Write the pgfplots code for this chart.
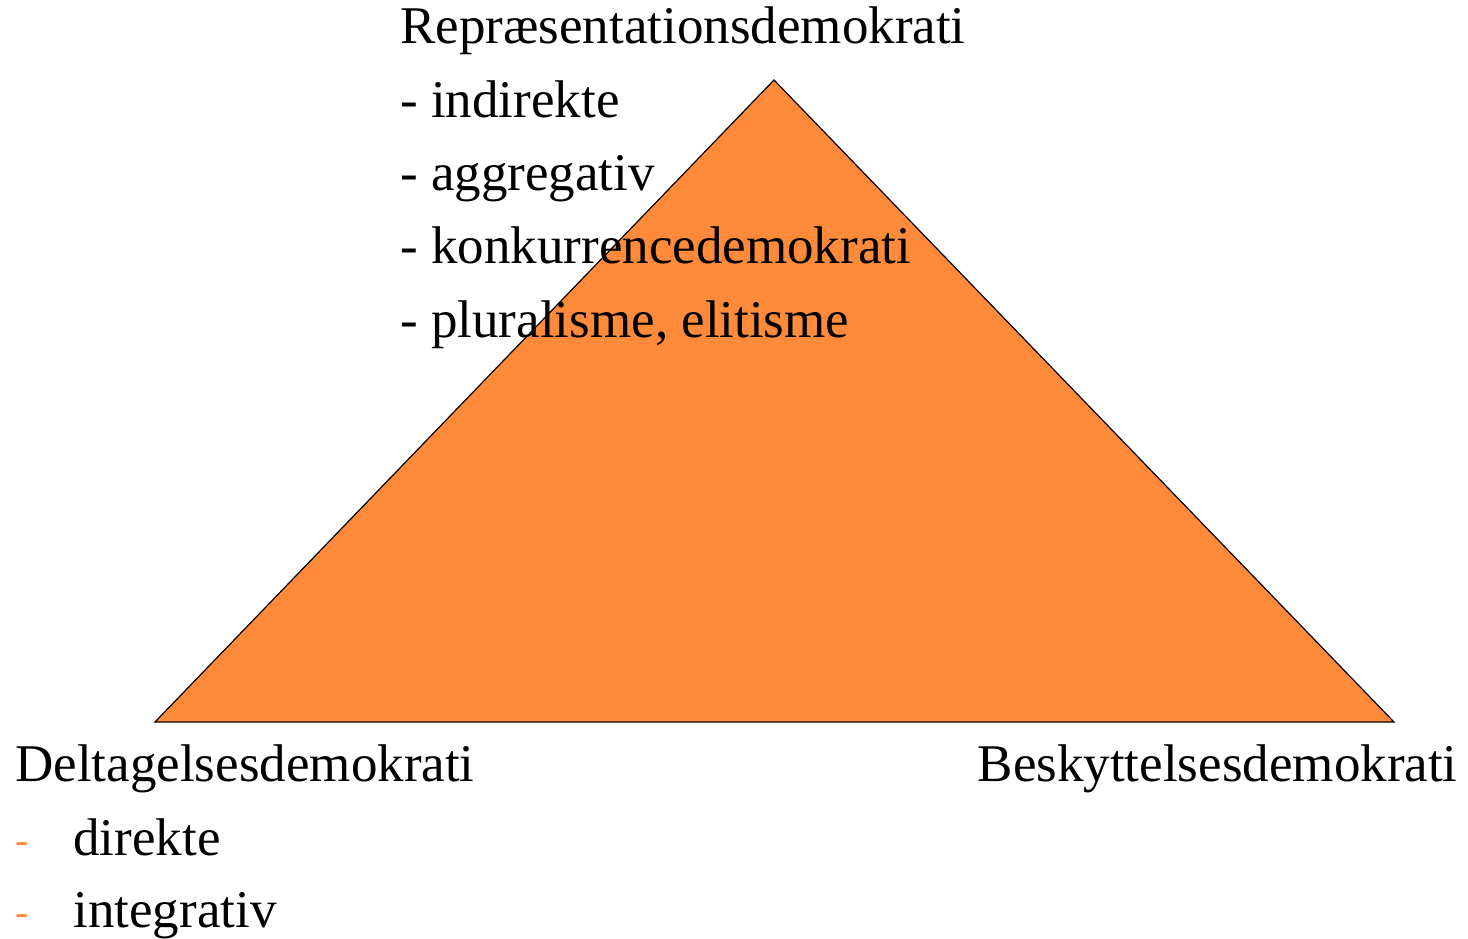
\documentclass[border=0pt]{standalone}
\usepackage{pgfplots}
\pgfplotsset{compat=1.18}
\usepackage{fontspec}
\setmainfont{Liberation Serif}
\definecolor{triorange}{RGB}{255,138,58}
\begin{document}
\begin{tikzpicture}
\begin{axis}[
    width=734bp, height=468bp,
    scale only axis,
    xmin=0, xmax=1468,
    ymin=0, ymax=936,
    y dir=reverse,
    hide axis,
    clip=false,
]
% triangle (pixel coordinates of the reference)
\addplot[draw=black, line width=0.6pt, fill=triorange] coordinates {
    (155,722) (774,80) (1394,722)
} -- cycle;

\begin{scope}[every node/.style={anchor=base west, inner sep=0pt, font=\fontsize{26.6}{27}\selectfont}]
\node at (axis cs:400,44)  {Repræsentationsdemokrati};
\node at (axis cs:400,117) {- indirekte};
\node at (axis cs:400,190) {- aggregativ};
\node at (axis cs:400,263) {- konkurrencedemokrati};
\node at (axis cs:400,337) {- pluralisme, elitisme};
\node at (axis cs:15,781)  {Deltagelsesdemokrati};
\node[text=triorange, font=\fontsize{20}{20}\selectfont] at (axis cs:15,853) {-};
\node at (axis cs:73,855)  {direkte};
\node[text=triorange, font=\fontsize{20}{20}\selectfont] at (axis cs:15,925) {-};
\node at (axis cs:73,927)  {integrativ};
\node[anchor=base east] at (axis cs:1458,781) {Beskyttelsesdemokrati};
\end{scope}
\end{axis}
\useasboundingbox (current axis.south west) rectangle (current axis.north east);
\end{tikzpicture}
\end{document}
